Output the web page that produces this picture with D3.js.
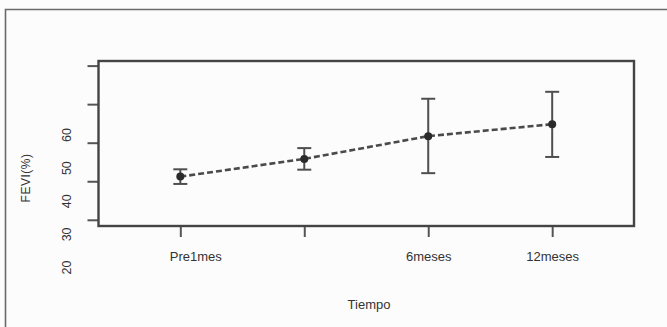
<!DOCTYPE html>
<html>
<head>
<meta charset="utf-8">
<script src="https://cdn.jsdelivr.net/npm/d3@7"></script>
<style>
  body { margin: 0; background: #fff; }
  text { font-family: "Liberation Sans", Arial, sans-serif; fill: #333; }
</style>
</head>
<body>
<div id="Grafik"></div>
<script>
// time points (second label is blank in the figure)
var tiempos = ["Pre1mes", "1mes", "6meses", "12meses"];
var tickNames = ["Pre1mes", "", "6meses", "12meses"];
// FEVI mean and interval
var fevi = [41.2, 45.8, 51.7, 54.8];
var feviLow = [39.3, 43.0, 42.1, 46.3];
var feviHigh = [43.1, 48.6, 61.4, 63.2];
// axis ticks and the (offset) tick labels printed next to them
var yTicks = [30, 40, 50, 60, 70];
var yLabels = [20, 30, 40, 50, 60];

var width = 667, height = 327;
var box = {left: 98.5, right: 634, top: 61, bottom: 226};

var svg = d3.select("#Grafik").append("svg")
  .attr("width", width)
  .attr("height", height);

svg.append("rect")
  .attr("width", width).attr("height", height)
  .attr("fill", "#fcfcfc");

// outer frame, cut off on the right and bottom
svg.append("path")
  .attr("d", "M5.5," + height + "V9.5H" + width)
  .attr("fill", "none")
  .attr("stroke", "#6a6a6a")
  .attr("stroke-width", 1.6);

var x = d3.scalePoint()
  .domain(tiempos)
  .range([box.left, box.right])
  .padding(0.66);

var y = d3.scaleLinear()
  .domain([30, 70])
  .range([219.8, 65.6]);

// labels sit on their own scale, as in the original figure
var yLab = d3.scaleLinear()
  .domain([20, 60])
  .range([267.5, 135]);

var xAxis = d3.axisBottom(x).tickSize(11).tickFormat(function(d, i) { return tickNames[i]; });
var yAxis = d3.axisLeft(y).tickValues(yTicks).tickSize(11).tickFormat("");

var gx = svg.append("g")
  .attr("class", "x axis")
  .attr("transform", "translate(0," + box.bottom + ")")
  .call(xAxis);
gx.select(".domain").remove();
gx.selectAll("line").attr("stroke", "#555").attr("stroke-width", 2);
gx.selectAll("text")
  .attr("y", 26)
  .attr("dx", function(d, i) { return i === 0 ? 15 : 0; })
  .style("font-size", "13px")
  .style("fill", "#333");

var gy = svg.append("g")
  .attr("class", "y axis")
  .attr("transform", "translate(" + box.left + ",0)")
  .call(yAxis);
gy.select(".domain").remove();
gy.selectAll("line").attr("stroke", "#555").attr("stroke-width", 2);

svg.append("g").selectAll("text")
  .data(yLabels)
  .enter().append("text")
  .attr("transform", function(d) { return "translate(67," + yLab(d) + ") rotate(-90)"; })
  .attr("text-anchor", "middle")
  .attr("dy", "0.35em")
  .style("font-size", "12.5px")
  .text(function(d) { return d; });

// plot box
svg.append("rect")
  .attr("x", box.left).attr("y", box.top)
  .attr("width", box.right - box.left)
  .attr("height", box.bottom - box.top)
  .attr("fill", "none")
  .attr("stroke", "#444")
  .attr("stroke-width", 2.4);

// dashed mean line
var line = d3.line()
  .x(function(d, i) { return x(tiempos[i]); })
  .y(function(d) { return y(d); });

svg.append("path")
  .datum(fevi)
  .attr("d", line)
  .attr("fill", "none")
  .attr("stroke", "#4a4a4a")
  .attr("stroke-width", 2.6)
  .attr("stroke-dasharray", "6,3");

// error bars
var bars = svg.append("g").selectAll("g")
  .data(tiempos)
  .enter().append("g")
  .attr("stroke", "#4f4f4f")
  .attr("stroke-width", 2);

bars.append("line")
  .attr("x1", function(d) { return x(d); })
  .attr("x2", function(d) { return x(d); })
  .attr("y1", function(d, i) { return y(feviLow[i]); })
  .attr("y2", function(d, i) { return y(feviHigh[i]); });

bars.append("line")
  .attr("x1", function(d) { return x(d) - 7; })
  .attr("x2", function(d) { return x(d) + 7; })
  .attr("y1", function(d, i) { return y(feviLow[i]); })
  .attr("y2", function(d, i) { return y(feviLow[i]); });

bars.append("line")
  .attr("x1", function(d) { return x(d) - 7; })
  .attr("x2", function(d) { return x(d) + 7; })
  .attr("y1", function(d, i) { return y(feviHigh[i]); })
  .attr("y2", function(d, i) { return y(feviHigh[i]); });

svg.append("g").selectAll("circle")
  .data(fevi)
  .enter().append("circle")
  .attr("cx", function(d, i) { return x(tiempos[i]); })
  .attr("cy", function(d) { return y(d); })
  .attr("r", 4)
  .attr("fill", "#2a2a2a");

// axis titles
svg.append("text")
  .attr("x", 369).attr("y", 304)
  .attr("dy", "0.35em")
  .attr("text-anchor", "middle")
  .style("font-size", "13px")
  .text("Tiempo");

svg.append("text")
  .attr("transform", "translate(26,178) rotate(-90)")
  .attr("dy", "0.35em")
  .attr("text-anchor", "middle")
  .style("font-size", "12px")
  .style("letter-spacing", "0.5px")
  .text("FEVI(%)");
</script>
</body>
</html>
